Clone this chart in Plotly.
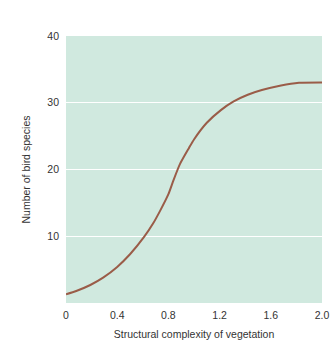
import plotly.graph_objects as go

complexity = [0.0, 0.08, 0.19, 0.29, 0.40, 0.50, 0.61, 0.68, 0.735, 0.80, 0.84, 0.89,
              0.96, 1.0, 1.10, 1.21, 1.31, 1.42, 1.53, 1.68, 1.82, 2.0]
species = [1.3, 1.8, 2.7, 3.8, 5.4, 7.3, 9.9, 11.9, 13.8, 16.3, 18.4, 20.8,
           23.2, 24.5, 27.0, 28.9, 30.2, 31.2, 31.9, 32.6, 33.0, 33.05]

x_ticks = [0, 0.4, 0.8, 1.2, 1.6, 2.0]
x_tick_labels = ["0", "0.4", "0.8", "1.2", "1.6", "2.0"]
y_ticks = [10, 20, 30, 40]

fig = go.Figure()
fig.add_trace(go.Scatter(x=complexity, y=species, mode="lines",
                         line=dict(color="#9a5c48", width=2, shape="spline", smoothing=0.6),
                         showlegend=False, hoverinfo="skip"))

font = dict(family="Liberation Sans, Arial, sans-serif", size=10, color="#333333")
fig.update_layout(
    width=330, height=345,
    margin=dict(l=66, r=8, t=36, b=42),
    paper_bgcolor="white",
    plot_bgcolor="#d0e9df",
    font=font,
    xaxis=dict(range=[0, 2.0], tickvals=x_ticks, ticktext=x_tick_labels,
               showgrid=False, zeroline=False, showline=False, ticks="",
               ticklabelstandoff=4, automargin=False,
               title=dict(text="Structural complexity of vegetation", standoff=11,
                          font=dict(size=10.5)),
               tickfont=dict(size=10.5)),
    yaxis=dict(range=[0, 40], tickvals=y_ticks, showgrid=True, gridcolor="white",
               gridwidth=1, zeroline=False, showline=False, ticks="",
               ticklabelstandoff=6, automargin=False,
               title=dict(text="Number of bird species", standoff=14,
                          font=dict(size=10.5)),
               tickfont=dict(size=10.5)),
)
fig.write_html("out.html")
